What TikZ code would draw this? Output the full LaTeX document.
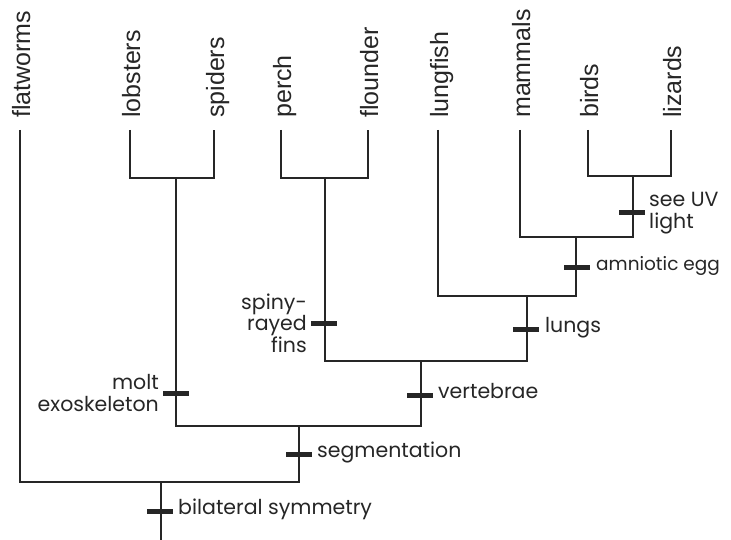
\documentclass[tikz,border=0pt]{standalone}
\usepackage{fontspec}
\setmainfont{Liberation Sans}
\newfontfamily\lblfont{Poppins}
\definecolor{ink}{HTML}{262626}
\begin{document}
\begin{tikzpicture}[x=1pt,y=-1pt,
  branch/.style={draw=ink,line width=2.2pt},
  tickmark/.style={fill=ink,minimum width=26pt,minimum height=5pt,inner sep=0pt,outer sep=0pt},
  taxon/.style={rotate=90,anchor=base west,inner sep=0pt,font=\fontsize{25}{25}\selectfont,text=ink},
  lbl/.style={inner sep=0pt,font=\lblfont\fontsize{20.5}{21.5}\selectfont,text=ink,text height=0.72em,text depth=0pt},
  mlbl/.style={inner sep=0pt,font=\lblfont\fontsize{20.5}{21.5}\selectfont,text=ink}]
\useasboundingbox (0,0) rectangle (731,540);
% taxa
\node[taxon] (flatworms) at (30,118) {flatworms};
\node[taxon] (lobsters) at (140,118) {lobsters};
\node[taxon] (spiders) at (224,118) {spiders};
\node[taxon] (perch) at (291,118) {perch};
\node[taxon] (flounder) at (378,118) {flounder};
\node[taxon] (lungfish) at (448,118) {lungfish};
\node[taxon] (mammals) at (530,118) {mammals};
\node[taxon] (birds) at (598,118) {birds};
\node[taxon] (lizards) at (681,118) {lizards};
% leaf tips
\coordinate (tFla) at (20,130);
\coordinate (tLob) at (130,130);
\coordinate (tSpi) at (214,130);
\coordinate (tPer) at (281,130);
\coordinate (tFlo) at (368,130);
\coordinate (tLun) at (438,130);
\coordinate (tMam) at (520,130);
\coordinate (tBir) at (588,130);
\coordinate (tLiz) at (671,130);
% junctions
\coordinate (jLS) at (176,178);
\coordinate (jPF) at (325,178);
\coordinate (jBL) at (633,176);
\coordinate (jAm) at (576,237);
\coordinate (jLu) at (527,296);
\coordinate (jVe) at (421,361);
\coordinate (jSe) at (299,426);
\coordinate (jRo) at (161,482);
\coordinate (jBo) at (161,540);
% branches
\draw[branch] (tFla) |- (jRo) -| (jSe);
\draw[branch] (jRo) -- (jBo);
\draw[branch] (jLS) |- (jSe) -| (jVe);
\draw[branch] (tLob) |- (jLS) -| (tSpi);
\draw[branch] (jPF) |- (jVe) -| (jLu);
\draw[branch] (tPer) |- (jPF) -| (tFlo);
\draw[branch] (tLun) |- (jLu) -| (jAm);
\draw[branch] (tMam) |- (jAm) -| (jBL);
\draw[branch] (tBir) |- (jBL) -| (tLiz);
% ticks
\node[tickmark] (kBil) at (160,511) {};
\node[tickmark] (kSeg) at (299,454) {};
\node[tickmark] (kMol) at (176,393) {};
\node[tickmark] (kVer) at (420,395) {};
\node[tickmark] (kSpi) at (324,323) {};
\node[tickmark] (kLun) at (526,329) {};
\node[tickmark] (kAmn) at (577,267) {};
\node[tickmark] (kUV) at (632,213) {};
% labels
\node[lbl,anchor=west] (lBil) at ([xshift=5pt]kBil.east) {bilateral symmetry};
\node[lbl,anchor=west] (lSeg) at ([xshift=5pt]kSeg.east) {segmentation};
\node[lbl,anchor=west] (lVer) at ([xshift=5pt]kVer.east) {vertebrae};
\node[lbl,anchor=west] (lLun) at ([xshift=6pt]kLun.east) {lungs};
\node[lbl,anchor=west,font=\lblfont\fontsize{18.5}{20}\selectfont] (lAmn) at ([xshift=6pt]kAmn.east) {amniotic egg};
\node[mlbl,anchor=west,align=left] (lUV) at ([xshift=4pt]kUV.east) {see UV\\light};
\node[mlbl,anchor=east,align=right] (lMol) at ([xshift=-4pt]kMol.west) {molt\\exoskeleton};
\node[mlbl,anchor=east,align=right] (lSpi) at ([xshift=-4pt]kSpi.west) {spiny-\\rayed\\fins};
\end{tikzpicture}
\end{document}
